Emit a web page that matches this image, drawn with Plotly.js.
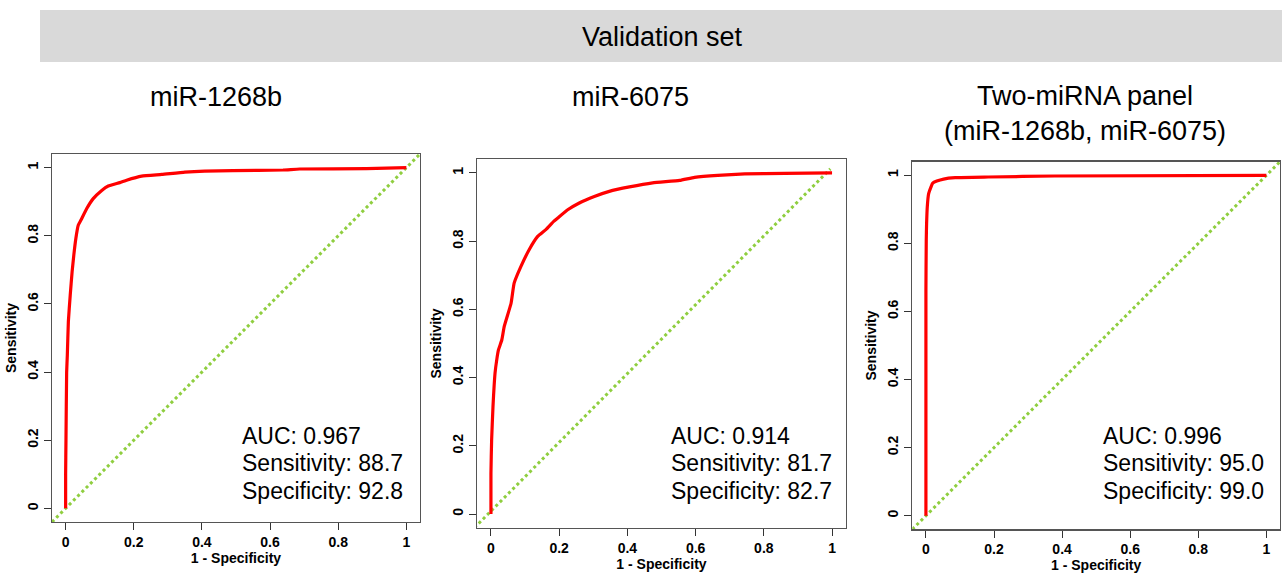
<!DOCTYPE html>
<html><head><meta charset="utf-8">
<script src="https://cdn.plot.ly/plotly-3.0.1.min.js"></script>
<style>html,body{margin:0;padding:0;background:#fff}#chart{width:1282px;height:576px}</style>
</head><body><div id="chart"></div>
<script>
// ---- data ----
const mainTitle = 'Validation set';
const panelTitles = ['miR-1268b', 'miR-6075', 'Two-miRNA panel<br>(miR-1268b, miR-6075)'];
const tickVals = [0, 0.2, 0.4, 0.6, 0.8, 1];
const tickText = ['0', '0.2', '0.4', '0.6', '0.8', '1'];

// miR-1268b ROC (1 - specificity, sensitivity)
const fpr1 = [0, 0, 0.001, 0.003, 0.005, 0.008, 0.0135, 0.019, 0.024, 0.030, 0.037, 0.045, 0.062, 0.081, 0.106, 0.125, 0.159, 0.179, 0.223, 0.282, 0.350, 0.408, 0.490, 0.638, 0.687, 0.883, 1];
const tpr1 = [0, 0.10, 0.20, 0.40, 0.45, 0.548, 0.626, 0.694, 0.743, 0.792, 0.831, 0.846, 0.880, 0.909, 0.933, 0.946, 0.956, 0.963, 0.975, 0.980, 0.987, 0.990, 0.991, 0.993, 0.996, 0.997, 1];
// miR-6075 ROC
const fpr2 = [0, 0, 0.002, 0.006, 0.012, 0.017, 0.022, 0.032, 0.039, 0.059, 0.068, 0.088, 0.112, 0.137, 0.161, 0.184, 0.196, 0.225, 0.259, 0.303, 0.347, 0.406, 0.474, 0.553, 0.597, 0.665, 0.744, 0.861, 1];
const tpr2 = [0, 0.119, 0.217, 0.315, 0.413, 0.452, 0.481, 0.511, 0.550, 0.618, 0.677, 0.726, 0.775, 0.814, 0.834, 0.858, 0.868, 0.892, 0.912, 0.931, 0.946, 0.959, 0.971, 0.978, 0.987, 0.993, 0.997, 0.999, 1];
// Two-miRNA panel ROC
const fpr3 = [0, 0, 0.001, 0.002, 0.004, 0.008, 0.015, 0.020, 0.032, 0.052, 0.086, 0.183, 0.379, 1];
const tpr3 = [0, 0.663, 0.81, 0.858, 0.907, 0.946, 0.966, 0.977, 0.983, 0.989, 0.993, 0.995, 0.998, 1];

const aucVals = [0.967, 0.914, 0.996];
const sensVals = [88.7, 81.7, 95.0];
const specVals = [92.8, 82.7, 99.0];

// ---- layout geometry (pixels) ----
const W = 1282, H = 576;
const boxes = [
  {l: 52, r: 420, t: 154, b: 522},
  {l: 477.3, r: 845.7, t: 159.3, b: 527.7},
  {l: 912.3, r: 1280, t: 161.7, b: 529.3}
];
const diag = [
  {x: [-0.04, 1.04], y: [-0.04, 1.04]},
  {x: [-0.073, 0.995], y: [-0.065, 1.012]},
  {x: [-0.04, 1.04], y: [-0.04, 1.04]}
];
const subTitleX = [216, 630, 1085];
const statX = [0.511, 0.523, 0.515];
const statY = [[0.213, 0.134, 0.052], [0.229, 0.150, 0.068], [0.235, 0.155, 0.073]];

const FONT = 'Liberation Sans, Arial, Helvetica, sans-serif';
const RED = '#ff0000', GREEN = '#8fce3f';
const fprs = [fpr1, fpr2, fpr3], tprs = [tpr1, tpr2, tpr3];
const boldTicks = tickText.map(t => '<b>' + t + '</b>');

const traces = [];
const layout = {
  width: W, height: H, margin: {l: 0, r: 0, t: 0, b: 0},
  paper_bgcolor: '#fff', plot_bgcolor: '#fff', showlegend: false,
  font: {family: FONT, color: '#000'},
  shapes: [{type: 'rect', xref: 'paper', yref: 'paper', x0: 40 / W, x1: 1, y0: 1 - 62 / H, y1: 1 - 10 / H,
    fillcolor: '#d9d9d9', line: {width: 0}, layer: 'below'}],
  annotations: [{xref: 'paper', yref: 'paper', x: 663 / W, y: 1 - 37 / H, text: mainTitle, showarrow: false,
    xanchor: 'center', yanchor: 'middle', font: {size: 27, family: FONT, color: '#000'}}]
};

for (let i = 0; i < 3; i++) {
  const n = i === 0 ? '' : String(i + 1);
  const bx = boxes[i];
  traces.push({x: diag[i].x, y: diag[i].y, xaxis: 'x' + n, yaxis: 'y' + n, mode: 'lines', type: 'scatter',
    line: {color: GREEN, width: 3, dash: 'dot'}, cliponaxis: i !== 1, hoverinfo: 'skip'});
  traces.push({x: fprs[i], y: tprs[i], xaxis: 'x' + n, yaxis: 'y' + n, mode: 'lines', type: 'scatter',
    line: {color: RED, width: 3.2, shape: 'spline', smoothing: 0.4}, hoverinfo: 'skip'});
  const axCommon = {range: [-0.04, 1.04], tickvals: tickVals, ticktext: boldTicks, ticks: 'outside', ticklen: 7,
    tickwidth: 1, tickcolor: '#333', showline: true, mirror: true, linecolor: '#555', linewidth: 1.3,
    showgrid: false, zeroline: false, automargin: false, fixedrange: true,
    tickfont: {family: FONT, size: 14, color: '#000'}};
  layout['xaxis' + n] = Object.assign({}, axCommon, {domain: [bx.l / W, bx.r / W], anchor: 'y' + n,
    title: {text: '<b>1 - Specificity</b>', standoff: 2, font: {family: FONT, size: 14, color: '#000'}}});
  layout['yaxis' + n] = Object.assign({}, axCommon, {domain: [1 - bx.b / H, 1 - bx.t / H], anchor: 'x' + n,
    tickangle: -90,
    title: {text: '<b>Sensitivity</b>', standoff: 5, font: {family: FONT, size: 14, color: '#000'}}});
  layout.annotations.push({xref: 'paper', yref: 'paper', x: subTitleX[i] / W, y: 1 - (i === 2 ? 113 : 97) / H,
    text: panelTitles[i], showarrow: false, xanchor: 'center', yanchor: 'middle',
    font: {size: 27, family: FONT, color: '#000'}});
  const lines = ['AUC: ' + aucVals[i].toFixed(3), 'Sensitivity: ' + sensVals[i].toFixed(1), 'Specificity: ' + specVals[i].toFixed(1)];
  lines.forEach((t, k) => layout.annotations.push({xref: 'x' + n, yref: 'y' + n, x: statX[i], y: statY[i][k],
    text: t, showarrow: false, xanchor: 'left', yanchor: 'middle', font: {size: 23, family: FONT, color: '#000'}}));
}

Plotly.newPlot('chart', traces, layout, {displayModeBar: false, staticPlot: true});
</script></body></html>
